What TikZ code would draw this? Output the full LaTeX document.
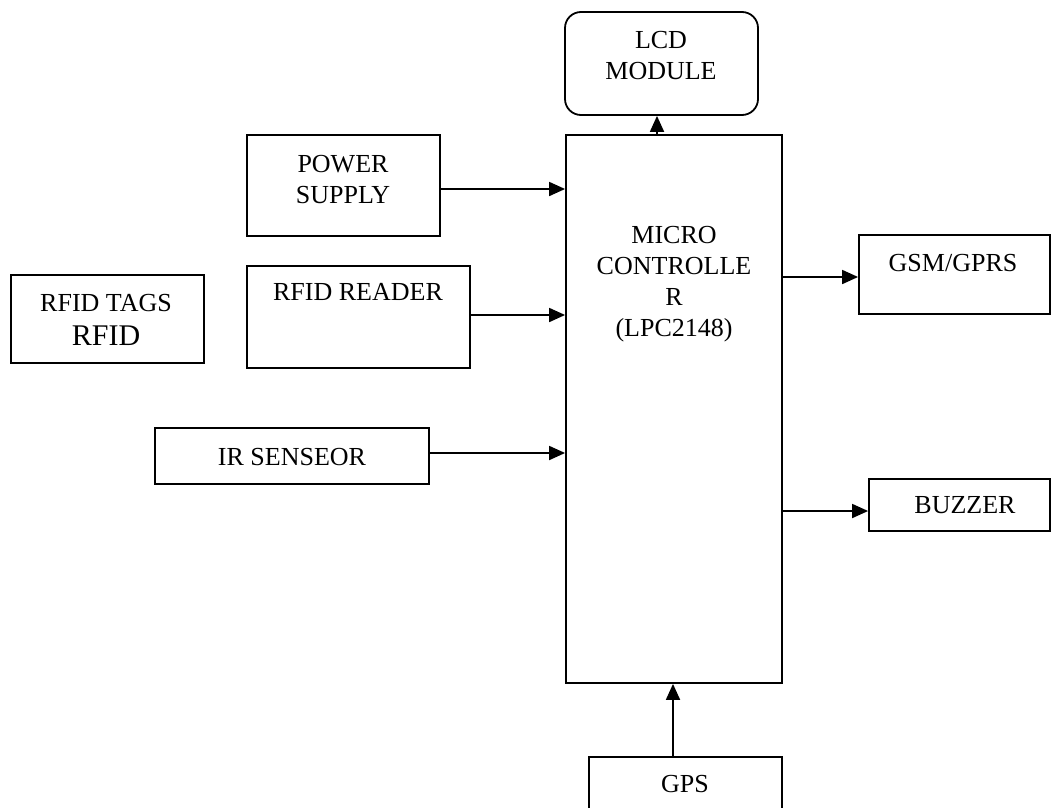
\documentclass[tikz,border=0pt]{standalone}
\usepackage{fontspec}
\setmainfont{Liberation Serif}
\usetikzlibrary{arrows.meta}
\tikzset{
  blk/.style={draw, line width=1.8pt, rectangle, inner sep=0pt},
  rblk/.style={blk, rounded corners=16pt},
  txt/.style={anchor=base, align=center, inner sep=0pt, font=\fontsize{26}{31}\selectfont},
  arr/.style={line width=1.8pt, -{Triangle[length=16pt,width=14pt]}}
}
\begin{document}
\begin{tikzpicture}[x=1pt,y=-1pt]
\useasboundingbox (0,0) rectangle (1052,808);
\clip (0,0) rectangle (1052,808);
% boxes
\node[rblk, minimum width=193pt, minimum height=103pt] (lcd) at (661.5,63.5) {};
\node[blk, minimum width=216pt, minimum height=548pt] (mc) at (674,409) {};
\node[blk, minimum width=193pt, minimum height=101pt] (ps) at (343.5,185.5) {};
\node[blk, minimum width=223pt, minimum height=102pt] (rr) at (358.5,317) {};
\node[blk, minimum width=193pt, minimum height=88pt] (tags) at (107.5,319) {};
\node[blk, minimum width=274pt, minimum height=56pt] (ir) at (292,456) {};
\node[blk, minimum width=191pt, minimum height=79pt] (gsm) at (954.5,274.5) {};
\node[blk, minimum width=181pt, minimum height=52pt] (bz) at (959.5,505) {};
\node[blk, minimum width=193pt, minimum height=80pt] (gps) at (685.5,797) {};
% texts (base = baseline of last line)
\node[txt] (lcdt) at (661,79) {LCD\\MODULE};
\node[txt] (mct) at (674,336) {MICRO\\CONTROLLE\\R\\(LPC2148)};
\node[txt] (pst) at (343,203) {POWER\\SUPPLY};
\node[txt] (rrt) at (358,300) {RFID READER};
\node[txt] (tagst) at (106,311) {RFID TAGS};
\node[txt, font=\fontsize{30}{34}\selectfont] (tagst2) at (106,345) {RFID};
\node[txt] (irt) at (292,465) {IR SENSEOR};
\node[txt] (gsmt) at (953,271) {GSM/GPRS};
\node[txt] (bzt) at (965,513) {BUZZER};
\node[txt] (gpst) at (685,792) {GPS};
% arrow levels
\coordinate (yps) at (0,189);
\coordinate (yrr) at (0,315);
\coordinate (yir) at (0,453);
\coordinate (ygsm) at (0,277);
\coordinate (ybz) at (0,511);
\coordinate (xlcd) at (657,0);
\coordinate (xgps) at (673,0);
% connectors
\draw[arr] (ps.east |- yps) -- (mc.west |- yps);
\draw[arr] (rr.east |- yrr) -- (mc.west |- yrr);
\draw[arr] (ir.east |- yir) -- (mc.west |- yir);
\draw[arr] (mc.east |- ygsm) -- (gsm.west |- ygsm);
\draw[arr] (mc.east |- ybz) -- (bz.west |- ybz);
\draw[arr] (mc.north -| xlcd) -- (lcd.south -| xlcd);
\draw[arr] (gps.north -| xgps) -- (mc.south -| xgps);
\end{tikzpicture}
\end{document}
